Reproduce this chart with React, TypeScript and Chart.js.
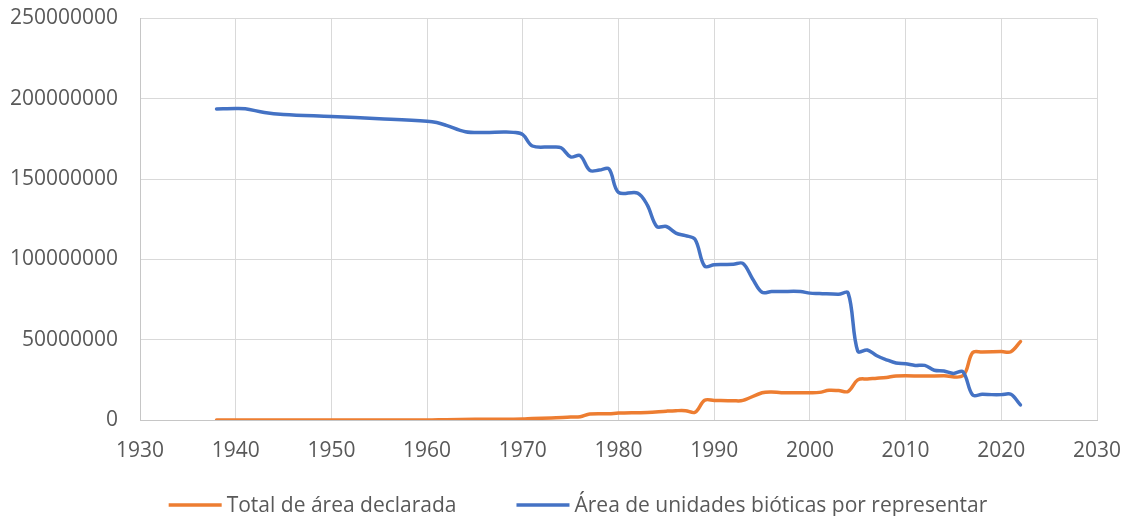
import React, { useEffect, useRef } from "react";
import { Chart, registerables } from "chart.js";

Chart.register(...registerables);

// ---- Data ----
const orangeLabel = "Total de área declarada";
const blueLabel = "Área de unidades bióticas por representar";

const orangeYears = [
  1938, 1950, 1960, 1962, 1965, 1968, 1970, 1971, 1973, 1975, 1976, 1977, 1979,
  1980, 1983, 1985, 1986, 1987, 1988, 1989, 1990, 1992, 1993, 1995, 1996, 1997,
  1999, 2000, 2001, 2002, 2003, 2004, 2005, 2006, 2007, 2008, 2009, 2012, 2014,
  2016, 2017, 2018, 2020, 2021, 2022,
];
const orangeValues = [
  0, 0, 0, 200000, 400000, 500000, 600000, 1000000, 1200000, 1800000, 2000000,
  3700000, 3900000, 4300000, 4700000, 5500000, 5800000, 5800000, 4800000,
  12300000, 12200000, 12000000, 12200000, 17000000, 17500000, 17000000,
  17000000, 17000000, 17200000, 18500000, 18300000, 17800000, 25000000,
  25600000, 26000000, 26500000, 27400000, 27400000, 27500000, 27600000,
  42000000, 42300000, 42600000, 42500000, 48800000,
];

const blueYears = [
  1938, 1940, 1941, 1943, 1945, 1950, 1955, 1960, 1961, 1962, 1964, 1966, 1968,
  1969, 1970, 1971, 1973, 1974, 1975, 1976, 1977, 1978, 1979, 1980, 1982, 1983,
  1984, 1985, 1986, 1987, 1988, 1989, 1990, 1991, 1992, 1993, 1994, 1995, 1996,
  1997, 1999, 2000, 2001, 2003, 2004, 2005, 2006, 2007, 2008, 2009, 2010, 2011,
  2012, 2013, 2014, 2015, 2016, 2017, 2018, 2019, 2020, 2021, 2022,
];
const blueValues = [
  193700000, 194000000, 193800000, 191500000, 190300000, 189000000, 187600000,
  186000000, 185200000, 183500000, 179500000, 179000000, 179300000, 179100000,
  177700000, 170600000, 170000000, 169500000, 163800000, 164600000, 155400000,
  155600000, 156300000, 141700000, 141300000, 134000000, 120500000, 120500000,
  116400000, 114800000, 112500000, 95800000, 96600000, 96800000, 97000000,
  97500000, 88000000, 79500000, 80000000, 80000000, 80000000, 79000000,
  78800000, 78300000, 79000000, 42800000, 43600000, 40000000, 37500000,
  35500000, 35000000, 34000000, 34000000, 31000000, 30500000, 29000000,
  30000000, 15600000, 16000000, 15800000, 15800000, 16000000, 9400000,
];

const xMin = 1930;
const xMax = 2030;
const xStep = 10;
const yMin = 0;
const yMax = 250000000;
const yStep = 50000000;

// ---- Styles ----
const ORANGE = "#ED7D31";
const BLUE = "#4472C4";
const FONT = '"Open Sans", "Noto Sans", sans-serif';
const TEXT_COLOR = "#595959";
const GRID_COLOR = "#d9d9d9";
const AXIS_COLOR = "#c6c6c6";

const legendPlugin = {
  id: "excelLegend",
  afterDraw(chart: any) {
    const ctx = chart.ctx as CanvasRenderingContext2D;
    const items = [
      { label: orangeLabel, color: ORANGE },
      { label: blueLabel, color: BLUE },
    ];
    const lineLen = 53;
    const gap = 5;
    const itemGap = 60;
    const center = 578;
    const lineY = 505;
    const textY = 512;
    ctx.save();
    ctx.font = `21px ${FONT}`;
    ctx.textBaseline = "alphabetic";
    ctx.textAlign = "left";
    const widths = items.map(
      (it) => lineLen + gap + ctx.measureText(it.label).width
    );
    const total =
      widths.reduce((a, b) => a + b, 0) + itemGap * (items.length - 1);
    let x = center - total / 2;
    items.forEach((it, i) => {
      ctx.strokeStyle = it.color;
      ctx.lineWidth = 3.5;
      ctx.lineCap = "butt";
      ctx.beginPath();
      ctx.moveTo(x, lineY);
      ctx.lineTo(x + lineLen, lineY);
      ctx.stroke();
      ctx.fillStyle = TEXT_COLOR;
      ctx.fillText(it.label, x + lineLen + gap, textY);
      x += widths[i] + itemGap;
    });
    ctx.restore();
  },
};

export default function App() {
  const canvasRef = useRef<HTMLCanvasElement | null>(null);

  useEffect(() => {
    if (!canvasRef.current) return;
    const orangeData = orangeYears.map((x, i) => ({ x, y: orangeValues[i] }));
    const blueData = blueYears.map((x, i) => ({ x, y: blueValues[i] }));

    const chart = new Chart(canvasRef.current, {
      type: "scatter",
      data: {
        datasets: [
          {
            label: orangeLabel,
            data: orangeData,
            showLine: true,
            borderColor: ORANGE,
            backgroundColor: ORANGE,
            borderWidth: 3.5,
            pointRadius: 0,
            pointHoverRadius: 0,
            tension: 0.35,
            borderCapStyle: "round",
            borderJoinStyle: "round",
            order: 1,
          },
          {
            label: blueLabel,
            data: blueData,
            showLine: true,
            borderColor: BLUE,
            backgroundColor: BLUE,
            borderWidth: 3.5,
            pointRadius: 0,
            pointHoverRadius: 0,
            tension: 0.35,
            borderCapStyle: "round",
            borderJoinStyle: "round",
            order: 0,
          },
        ],
      },
      options: {
        responsive: true,
        maintainAspectRatio: false,
        animation: false,
        layout: { padding: { top: 18.5, right: 30, bottom: 40, left: 0 } },
        plugins: {
          legend: { display: false },
          tooltip: { enabled: false },
        },
        scales: {
          x: {
            type: "linear",
            min: xMin,
            max: xMax,
            afterFit: (scale: any) => {
              scale.height = 56;
              scale.paddingLeft = 0;
              scale.paddingRight = 0;
              scale.paddingTop = 0;
              scale.paddingBottom = 0;
            },
            ticks: {
              stepSize: xStep,
              color: TEXT_COLOR,
              font: { family: FONT, size: 21 },
              padding: 18,
              maxRotation: 0,
              callback: (v: any) => String(v),
            },
            grid: { color: GRID_COLOR, lineWidth: 1, drawTicks: false },
            border: { color: AXIS_COLOR, width: 1 },
          },
          y: {
            type: "linear",
            min: yMin,
            max: yMax,
            afterFit: (scale: any) => {
              scale.width = 140;
              scale.paddingLeft = 0;
              scale.paddingRight = 0;
              scale.paddingTop = 0;
              scale.paddingBottom = 0;
            },
            ticks: {
              stepSize: yStep,
              color: TEXT_COLOR,
              font: { family: FONT, size: 21 },
              padding: 22,
              callback: (v: any) => String(v),
            },
            grid: { color: GRID_COLOR, lineWidth: 1, drawTicks: false },
            border: { color: AXIS_COLOR, width: 1 },
          },
        },
      },
      plugins: [legendPlugin],
    });

    return () => chart.destroy();
  }, []);

  return (
    <div
      style={{
        position: "fixed",
        left: 0,
        top: 0,
        width: 1127,
        height: 516,
        background: "#ffffff",
      }}
    >
      <canvas ref={canvasRef} />
    </div>
  );
}
